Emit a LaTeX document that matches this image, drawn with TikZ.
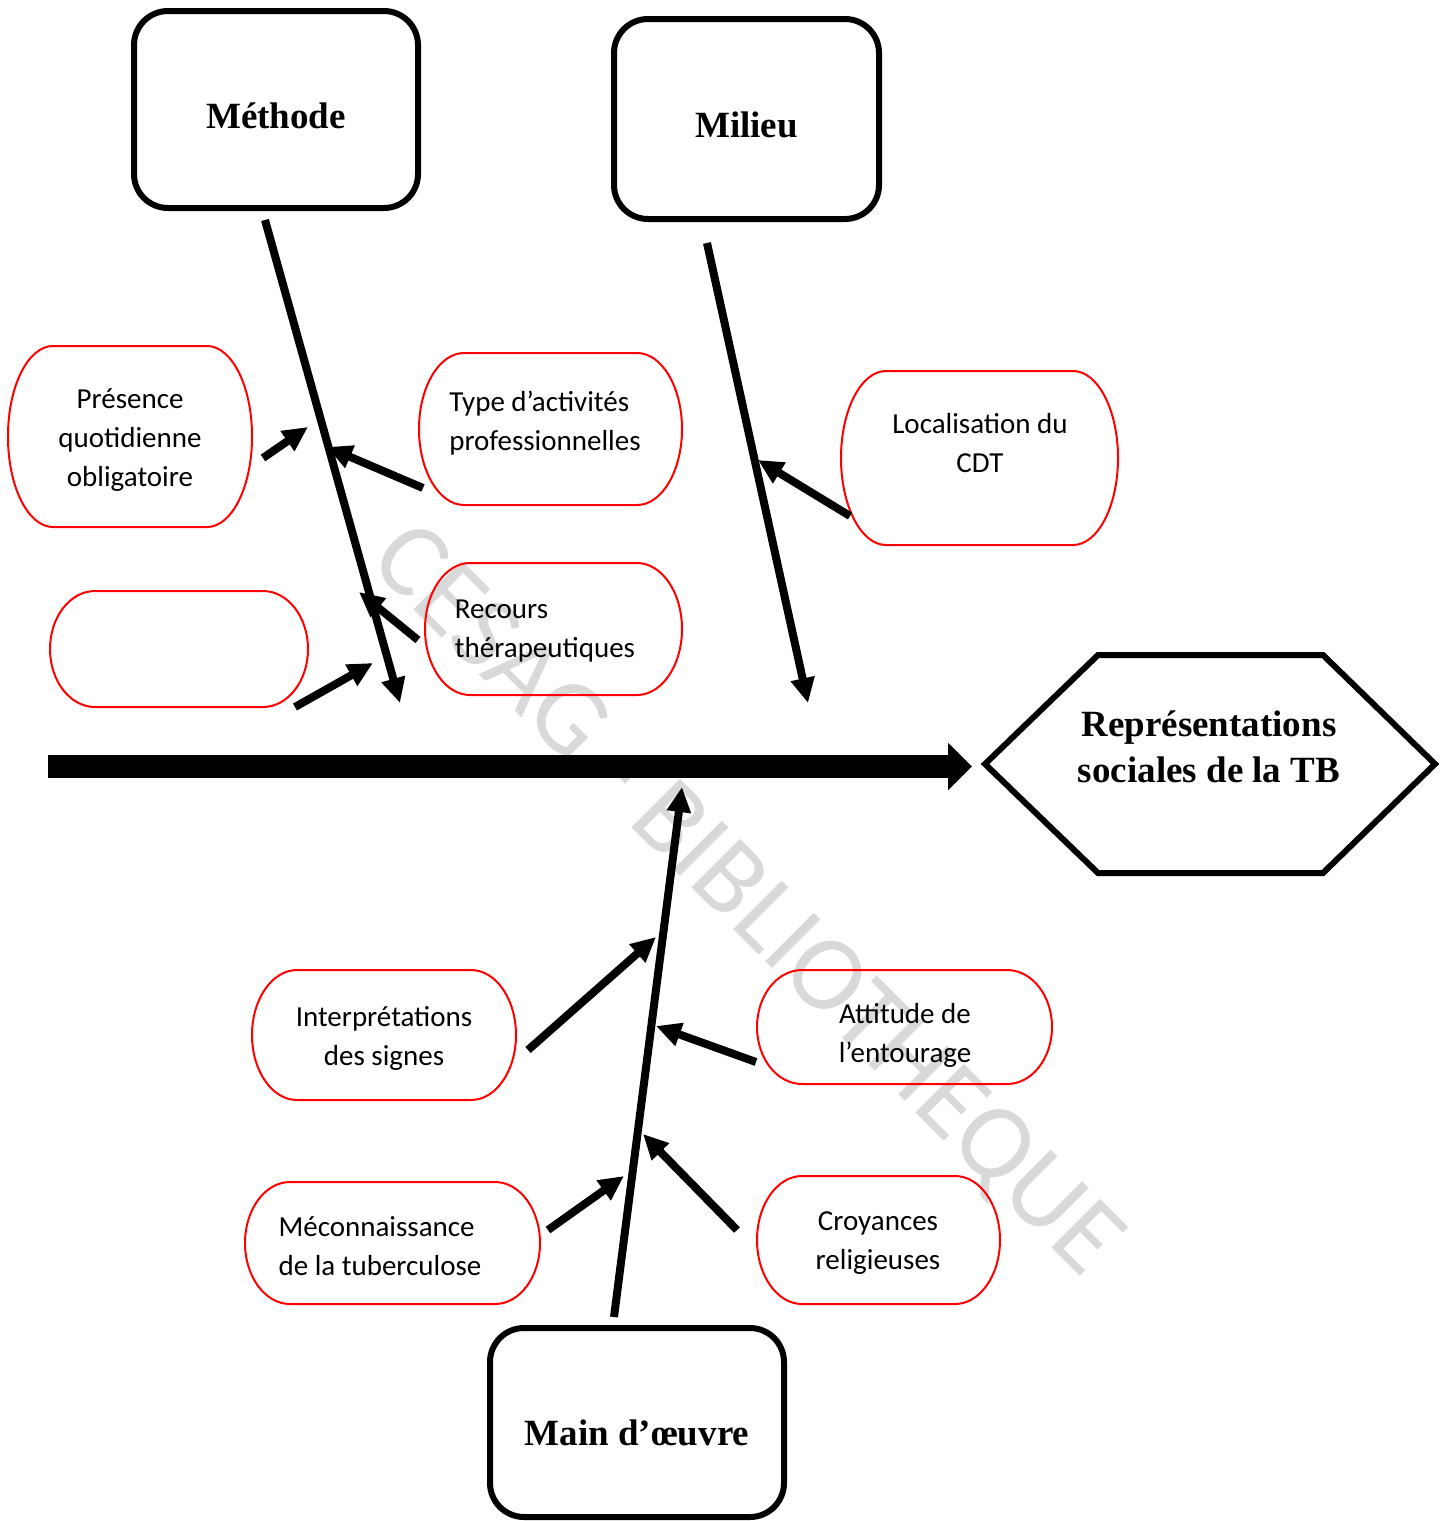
\documentclass[tikz,border=0pt]{standalone}
\usepackage{fontspec}
\setmainfont{Liberation Serif}
\newfontfamily\calibrifont{Carlito}
\usetikzlibrary{arrows.meta}
\definecolor{wmgray}{HTML}{D9D9D9}
\newcommand\ovaloutline[6]{%
  \draw[redline] ({#1+#5},#2) -- ({#3-#5},#2)
    arc[start angle=-90,end angle=0,x radius=#5,y radius=#6] -- (#3,{#4-#6})
    arc[start angle=0,end angle=90,x radius=#5,y radius=#6] -- ({#1+#5},#4)
    arc[start angle=90,end angle=180,x radius=#5,y radius=#6] -- (#1,{#2+#6})
    arc[start angle=180,end angle=270,x radius=#5,y radius=#6] -- cycle;}
\newcommand\lowered[2]{\raisebox{-#1}[\height][\depth]{#2}}
\tikzset{
  redline/.style={draw=red, line width=1pt},
  ovaltext/.style={font=\calibrifont\fontsize{14.5}{19.5}\selectfont, inner sep=0pt},
  bigbox/.style={draw, line width=3pt, rounded corners=17pt, font=\bfseries\fontsize{18.5}{23}\selectfont},
  branch/.style={line width=4pt, -{Triangle[length=12.5pt,width=11.5pt]}},
  spinearrow/.style={line width=11.5pt, -{Triangle[length=12pt,width=23pt]}},
}
\begin{document}
\begin{tikzpicture}[x=0.5pt,y=-0.5pt]
\useasboundingbox (0,0) rectangle (1442,1521);
% watermark
\node[text=wmgray, font=\calibrifont\fontsize{53.5}{53.5}\selectfont, rotate=-45] (wm) at (745,902) {CESAG - BIBLIOTHEQUE};

% category boxes
\node[bigbox, minimum width=142pt, minimum height=98.5pt] (methode) at (276,109.5) {\lowered{3pt}{Méthode}};
\node[bigbox, minimum width=132.5pt, minimum height=100pt] (milieu) at (746.5,119) {\lowered{3pt}{Milieu}};
\node[bigbox, minimum width=147pt, minimum height=94.5pt] (main) at (637,1422.5) {\lowered{5pt}{Main d’œuvre}};

% effect hexagon
\draw[line width=3pt, line join=miter] (985,764) -- (1098,655) -- (1323,655) -- (1435,764) -- (1323,873) -- (1098,873) -- cycle;
\node[font=\bfseries\fontsize{18.5}{23}\selectfont, align=center] (effet) at (1209,747) {Représentations\\sociales de la TB};

% oval cause boxes
\ovaloutline{8}{346}{252}{527}{45}{90}
\node[ovaltext, align=center] (pres) at (130,440) {Présence\\quotidienne\\obligatoire};
\ovaloutline{419}{353}{682}{505}{45}{76}
\node[ovaltext, align=left] (type) at (545,423) {Type d’activités\\professionnelles};
\ovaloutline{841}{371}{1118}{545}{45}{87}
\node[ovaltext, align=center] (loc) at (980,443) {Localisation du\\CDT};
\ovaloutline{50}{591}{308}{707}{45}{58}
\node[ovaltext] (vide) at (179,649) {};
\ovaloutline{425}{563}{682}{695}{45}{66}
\node[ovaltext, align=left] (recours) at (545,631) {Recours\\thérapeutiques};
\ovaloutline{252}{970}{516}{1100}{45}{65}
\node[ovaltext, align=center] (interp) at (384,1038) {Interprétations\\des signes};
\ovaloutline{757}{970}{1052}{1084}{45}{57}
\node[ovaltext, align=center] (attitude) at (905,1035) {Attitude de\\l’entourage};
\ovaloutline{245}{1182}{540}{1304}{45}{61}
\node[ovaltext, align=left] (mecon) at (380,1246) {Méconnaissance\\de la tuberculose};
\ovaloutline{757}{1176}{1000}{1304}{45}{64}
\node[ovaltext, align=center] (croy) at (878,1243) {Croyances\\religieuses};

% spine
\coordinate (spineA) at (48,766.5);
\coordinate (spineB) at (972,766.5);
\draw[spinearrow] (spineA) -- (spineB);

% main branches
\coordinate (mA) at (265,220); \coordinate (mB) at (400,703);
\coordinate (lA) at (707,243); \coordinate (lB) at (808,703);
\coordinate (oA) at (614,1317); \coordinate (oB) at (682,787);
\draw[branch] (mA) -- (mB);
\draw[branch] (lA) -- (lB);
\draw[branch] (oA) -- (oB);

% sub-cause arrows
\coordinate (a1) at (263,458); \coordinate (b1) at (308,427);
\coordinate (a2) at (423,488); \coordinate (b2) at (327,447);
\coordinate (a3) at (418,640); \coordinate (b3) at (359,592);
\coordinate (a4) at (295,707); \coordinate (b4) at (373,663);
\coordinate (a5) at (850,516); \coordinate (b5) at (758,460);
\coordinate (a6) at (528,1050); \coordinate (b6) at (656,937);
\coordinate (a7) at (756,1062); \coordinate (b7) at (656,1026);
\coordinate (a8) at (548,1230); \coordinate (b8) at (624,1176);
\coordinate (a9) at (737,1230); \coordinate (b9) at (643,1134);
\foreach \i in {1,...,9} {\draw[branch] (a\i) -- (b\i);}
\end{tikzpicture}
\end{document}
